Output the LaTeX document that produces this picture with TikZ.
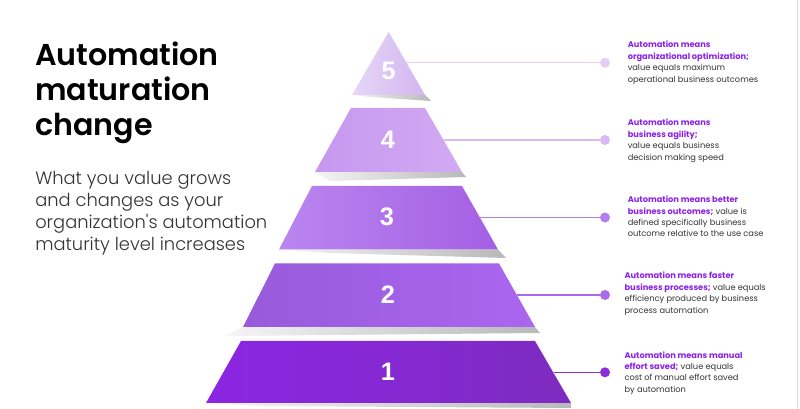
\documentclass[tikz,border=0pt]{standalone}
\usepackage{fontspec}
\setmainfont{Poppins}
\newfontfamily\titlefont{Poppins SemiBold}
\newfontfamily\subfont{Poppins Light}
\newfontfamily\numfont{Liberation Sans}
\usetikzlibrary{calc}
\definecolor{p5a}{HTML}{E6D6F7}\definecolor{p5b}{HTML}{D3B6F0}
\definecolor{p4a}{HTML}{C698EF}\definecolor{p4m}{HTML}{D8B3F6}\definecolor{p4b}{HTML}{D2AAF3}
\definecolor{p3a}{HTML}{BA86EF}\definecolor{p3m}{HTML}{BB8AF1}\definecolor{p3b}{HTML}{A45FE4}
\definecolor{p2a}{HTML}{985ADB}\definecolor{p2b}{HTML}{AA66EF}
\definecolor{p1a}{HTML}{8B26E3}\definecolor{p1b}{HTML}{7E2BC0}
\definecolor{d5}{HTML}{E2CEF6}\definecolor{d4}{HTML}{D6B9F5}\definecolor{d3}{HTML}{B27EEB}
\definecolor{d2}{HTML}{A96BEB}\definecolor{d1}{HTML}{8C2DD8}
\definecolor{hl}{HTML}{8A22E8}\definecolor{body}{HTML}{333333}
\tikzset{
  num/.style={text=white,font=\numfont\bfseries\fontsize{19}{19}\selectfont,inner sep=0pt},
  dot/.style={circle,inner sep=0pt,minimum size=7.5pt},
  lead/.style={line width=0.9pt},
  desc/.style={anchor=west,align=left,inner sep=0pt,text=body,font=\fontsize{6.2}{8.6}\selectfont},
  shadowband/.style={left color=gray!8,right color=gray!55},
}
\newcommand{\hi}[1]{\textcolor{hl}{\textbf{#1}}}
\begin{document}
\begin{tikzpicture}[x=0.75pt,y=-0.75pt]
\useasboundingbox (0,0) rectangle (800,409);
\fill[white] (0,0) rectangle (800,409);
\draw[gray!30,line width=0.8pt] (797.5,0) -- (797.5,409);

% title & subtitle
\node[anchor=north west,inner sep=0pt,align=left,font=\titlefont\fontsize{22.6}{26.25}\selectfont] (title) at (35,42) {Automation\\maturation\\change};
\node[anchor=north west,inner sep=0pt,align=left,text=body,font=\subfont\fontsize{13.4}{16.6}\selectfont] (sub) at (35,171) {What you value grows\\and changes as your\\organization's automation\\maturity level increases};

% shadows
\shade[shadowband] (352,95) -- (425,95) -- (431,101) -- (370,97) -- cycle;
\shade[shadowband] (315,172) -- (462,172) -- (466,177) -- (330,181) -- cycle;
\shade[shadowband] (279,249.5) -- (498,249.5) -- (506,258) -- (330,253) -- cycle;
\shade[shadowband] (243,327) -- (535,327) -- (540,333) -- (225,336) -- cycle;
\shade[shadowband] (206,403) -- (571,403) -- (571,408) -- (260,406) -- cycle;

% tiers
\shade[left color=p5a,right color=p5b] (388.7,32) -- (425,95) -- (352,95) -- cycle;
\shade[left color=p4a,middle color=p4m,right color=p4b] (351,108) -- (425,108) -- (462,172) -- (315,172) -- cycle;
\shade[left color=p3a,middle color=p3m,right color=p3b] (312,186) -- (462,186) -- (498,249.5) -- (279,249.5) -- cycle;
\shade[left color=p2a,right color=p2b] (275,263.5) -- (499,263.5) -- (535,327) -- (243,327) -- cycle;
\shade[left color=p1a,right color=p1b] (241,341) -- (535,341) -- (571,403) -- (206,403) -- cycle;

% numbers
\node[num] (n5) at (388.7,71) {5};
\node[num] (n4) at (388,140) {4};
\node[num] (n3) at (387,217) {3};
\node[num] (n2) at (388,295) {2};
\node[num] (n1) at (388,372) {1};

% edge points
\coordinate (e5) at (406.4,62.7);
\coordinate (e4) at (443.5,140);
\coordinate (e3) at (480,217.5);
\coordinate (e2) at (517,295);
\coordinate (e1) at (554,372.3);

% dots
\node[dot,fill=d5] (c5) at (605,62.7) {};
\node[dot,fill=d4] (c4) at (605,140) {};
\node[dot,fill=d3] (c3) at (605,217.5) {};
\node[dot,fill=d2] (c2) at (605,295) {};
\node[dot,fill=d1] (c1) at (605,372.3) {};

\draw[lead,d5] (e5) -- (c5);
\draw[lead,d4] (e4) -- (c4);
\draw[lead,d3] (e3) -- (c3);
\draw[lead,d2] (e2) -- (c2);
\draw[lead,d1] (e1) -- (c1);

% descriptions
\node[desc] (t5) at (627.5,62.9) {\hi{Automation means}\\\hi{organizational optimization;}\\value equals maximum\\operational business outcomes};
\node[desc] (t4) at (627.5,141) {\hi{Automation means}\\\hi{business agility;}\\value equals business\\decision making speed};
\node[desc] (t3) at (627.5,216.5) {\hi{Automation means better}\\\hi{business outcomes;} value is\\defined specifically business\\outcome relative to the use case};
\node[desc] (t2) at (624.3,293.7) {\hi{Automation means faster}\\\hi{business processes;} value equals\\efficiency produced by business\\process automation};
\node[desc] (t1) at (624.3,373) {\hi{Automation means manual}\\\hi{effort saved;} value equals\\cost of manual effort saved\\by automation};
\end{tikzpicture}
\end{document}
